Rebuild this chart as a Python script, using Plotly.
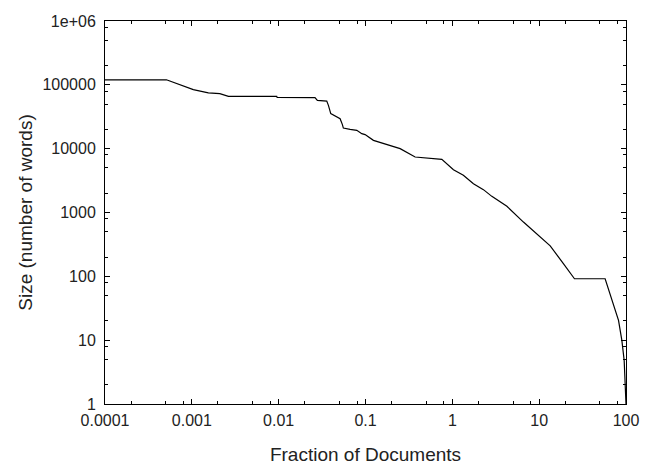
import plotly.graph_objects as go

# Data (fraction of documents in %, size in words)
fraction = [0.0001, 0.00051, 0.00104, 0.00155, 0.0021, 0.00264, 0.0095, 0.0096,
            0.0262, 0.0279, 0.0358, 0.0374, 0.0398, 0.0447, 0.051, 0.0542, 0.0556,
            0.0665, 0.0794, 0.0906, 0.0989, 0.1234, 0.1607, 0.2505, 0.3727, 0.757,
            1.03, 1.34, 1.75, 2.28, 2.85, 4.25, 6.59, 10.3, 13.4, 19.1, 25.5, 57.5,
            70.6, 82.0, 89.6, 95.3, 100.0]
size_words = [120000, 120000, 84000, 75000, 73000, 66000, 66000, 63500,
              63000, 57200, 55700, 47700, 35400, 32400, 29500, 23800, 21000,
              20100, 19400, 17200, 16600, 13500, 12000, 10000, 7400, 6800,
              4690, 3820, 2830, 2280, 1790, 1250, 708, 411, 300, 157, 91.6, 91.6,
              37.2, 20.4, 9.9, 4.8, 1.0]

x_tickvals = [0.0001, 0.001, 0.01, 0.1, 1, 10, 100]
x_ticktext = ["0.0001", "0.001", "0.01", "0.1", "1", "10", "100"]
y_tickvals = [1, 10, 100, 1000, 10000, 100000, 1000000]
y_ticktext = ["1", "10", "100", "1000", "10000", "100000", "1e+06"]
minor_mult = [2, 5, 8]

x_minor = [d * m for d in x_tickvals[:-1] for m in minor_mult]
y_minor = [d * m for d in y_tickvals[:-1] for m in minor_mult]

font_family = "Liberation Sans, Arial, Helvetica, sans-serif"

fig = go.Figure()
fig.add_trace(go.Scatter(
    x=fraction, y=size_words, mode="lines",
    line=dict(color="black", width=1.2),
    showlegend=False, hoverinfo="skip",
))

axis_common = dict(
    type="log",
    automargin=False,
    showgrid=False,
    zeroline=False,
    showline=True,
    linecolor="black",
    linewidth=1,
    mirror="ticks",
    ticks="inside",
    ticklen=5,
    tickwidth=1,
    tickcolor="black",
    tickfont=dict(family=font_family, size=16, color="#222"),
)

fig.update_xaxes(
    **axis_common,
    range=[-4, 2],
    tickmode="array", tickvals=x_tickvals, ticktext=x_ticktext,
    minor=dict(tickmode="array", tickvals=x_minor, ticks="inside", ticklen=3,
               tickcolor="black", tickwidth=1, showgrid=False),
    title=dict(text="Fraction of Documents",
               font=dict(family=font_family, size=19, color="#222"), standoff=29),
    ticklabelstandoff=2,
)
fig.update_yaxes(
    **axis_common,
    range=[0, 6],
    tickmode="array", tickvals=y_tickvals, ticktext=y_ticktext,
    minor=dict(tickmode="array", tickvals=y_minor, ticks="inside", ticklen=3,
               tickcolor="black", tickwidth=1, showgrid=False),
    title=dict(text="Size (number of words)",
               font=dict(family=font_family, size=19, color="#222"), standoff=4),
    ticklabelstandoff=5,
)

fig.update_layout(
    width=654, height=465,
    margin=dict(l=105, r=28, t=21, b=61, pad=0),
    paper_bgcolor="white", plot_bgcolor="white",
)

fig.write_html("out.html")
